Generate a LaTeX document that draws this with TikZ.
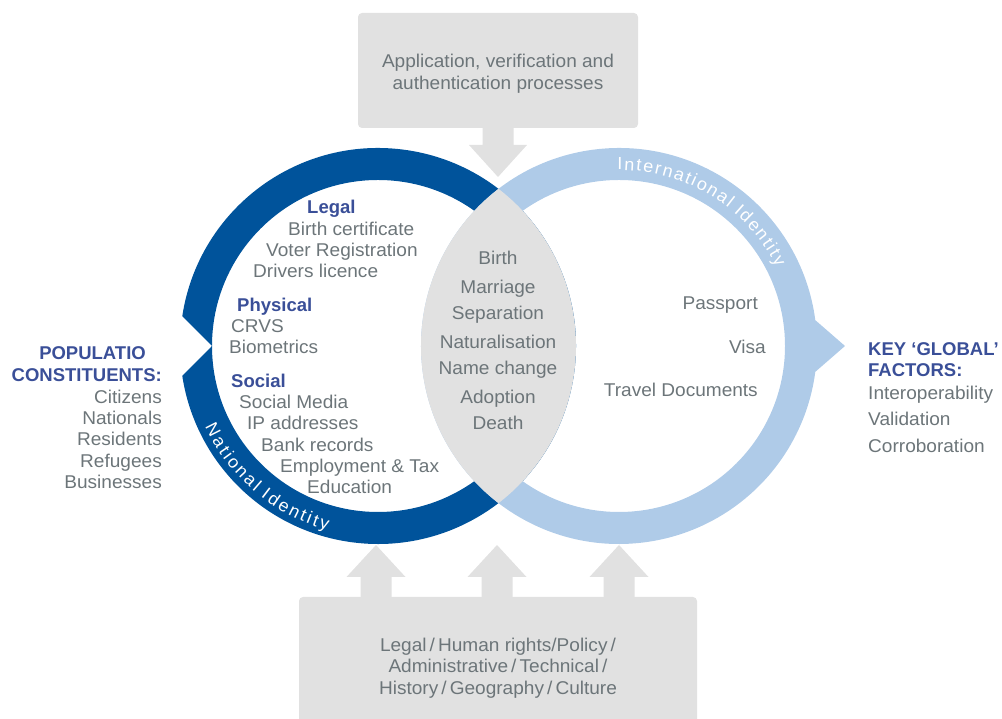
\documentclass[tikz,border=0pt]{standalone}
\usepackage{fontspec}
\setmainfont{Liberation Sans}
\newfontfamily\itemfont{Liberation Sans}[FakeStretch=1.03]
\usetikzlibrary{
    positioning
}

\definecolor{natblue}{RGB}{0,83,155}
\definecolor{intblue}{RGB}{175,203,232}
\definecolor{lensgray}{RGB}{225,225,225}
\definecolor{boxgray}{RGB}{225,225,225}
\definecolor{txtgray}{RGB}{108,117,121}
\definecolor{headblue}{RGB}{58,79,152}

\begin{document}
\begin{tikzpicture}[x=1pt, y=1pt,
    every node/.style={inner sep=0pt},
    item/.style={
        text=txtgray,
        font=\itemfont\fontsize{18.5}{21}\selectfont,
        text height=13.3pt,
        text depth=0pt
    },
    head/.style={
        item,
        text=headblue,
        font=\fontsize{18.5}{21}\selectfont\bfseries
    },
    panel/.style={
        fill=boxgray,
        rounded corners=4pt
    },
    paneltext/.style={
        align=center,
        text=txtgray
    },
    blockarrow/.style={fill=boxgray},
    ringband/.style={even odd rule},
    ringletter/.style={
        anchor=base,
        text=white,
        font=\itemfont\fontsize{17.5}{17.5}\selectfont
    }
]
\useasboundingbox (0,0) rectangle (1002,719);

% ===== centres of the two rings =====
\coordinate (natc) at (378,373);
\coordinate (intc) at (619,373);

% ===== TOP: processes box and its arrow =====
\node[panel, minimum width=280pt, minimum height=115pt] (proc) at (498,648.5) {};
\node[paneltext, font=\itemfont\fontsize{18.5}{22}\selectfont] (proctext)
    at ([yshift=-3pt]proc.center) {Application, verification and\\authentication processes};
\coordinate (proctip) at (498,542);
\fill[blockarrow] (proctip) -- ++(29,32) -- ++(-13.5,0) -- ++(0,20)
    -- ++(-31,0) -- ++(0,-20) -- ++(-13.5,0) -- cycle;

% ===== BOTTOM: factors box and its three arrows =====
\node[panel, minimum width=398pt, minimum height=142pt] (context) at (498,51) {};
\node[paneltext, font=\itemfont\fontsize{18.5}{21.5}\selectfont] (contexttext)
    at (context.center)
    {Legal\,/\,Human rights/Policy\,/\\Administrative\,/\,Technical\,/\\History\,/\,Geography\,/\,Culture};
\coordinate (nattip) at (376,174);
\coordinate (lenstip) at (497,174);
\coordinate (inttip) at (619,174);
\foreach \tip in {nattip, lenstip, inttip}
    \fill[blockarrow] (\tip) -- ++(29.5,-32) -- ++(-14,0) -- ++(0,-23)
        -- ++(-31,0) -- ++(0,23) -- ++(-14,0) -- cycle;

% ===== RINGS =====
% national identity ring, notched on the left
\fill[natblue, ringband]
    ([shift={(171.3:198)}]natc) arc[start angle=171.3, end angle=-171.3, radius=198]
    -- ([shift={(180:166)}]natc) -- cycle
    (natc) circle[radius=166];
% international identity ring, pointing right
\fill[intblue, ringband]
    ([shift={(7.5:198)}]intc) arc[start angle=7.5, end angle=352.5, radius=198]
    -- ([shift={(0:226)}]intc) -- cycle
    (intc) circle[radius=166];
% overlap
\begin{scope}
    \clip (natc) circle[radius=198];
    \fill[lensgray] (intc) circle[radius=198];
\end{scope}

% ring titles, letter by letter (clockwise on top, anticlockwise at the bottom)
\gdef\arcpos{0}
\foreach \c [count=\k] in {I,n,t,e,r,n,a,t,i,o,n,a,l} {
    \itemfont\fontsize{17.5}{17.5}\selectfont
    \pgfmathsetmacro\w{width("\c")}
    \pgfmathsetmacro\a{90.5-(\arcpos+\w/2)/176*180/pi}
    \node[ringletter, rotate=\a-90] (intl\k) at ([shift={(\a:176)}]intc) {\c};
    \pgfmathsetmacro\p{\arcpos+\w+1.7}
    \xdef\arcpos{\p}
}
\pgfmathsetmacro\p{\arcpos+5}
\xdef\arcpos{\p}
\foreach \c [count=\k] in {I,d,e,n,t,i,t,y} {
    \itemfont\fontsize{17.5}{17.5}\selectfont
    \pgfmathsetmacro\w{width("\c")}
    \pgfmathsetmacro\a{90.5-(\arcpos+\w/2)/176*180/pi}
    \node[ringletter, rotate=\a-90] (intid\k) at ([shift={(\a:176)}]intc) {\c};
    \pgfmathsetmacro\p{\arcpos+\w+1.7}
    \xdef\arcpos{\p}
}
\gdef\arcpos{0}
\foreach \c [count=\k] in {N,a,t,i,o,n,a,l} {
    \itemfont\fontsize{17.5}{17.5}\selectfont
    \pgfmathsetmacro\w{width("\c")}
    \pgfmathsetmacro\a{205+(\arcpos+\w/2)/191*180/pi}
    \node[ringletter, rotate=\a+90] (natl\k) at ([shift={(\a:191)}]natc) {\c};
    \pgfmathsetmacro\p{\arcpos+\w+2.4}
    \xdef\arcpos{\p}
}
\pgfmathsetmacro\p{\arcpos+5}
\xdef\arcpos{\p}
\foreach \c [count=\k] in {I,d,e,n,t,i,t,y} {
    \itemfont\fontsize{17.5}{17.5}\selectfont
    \pgfmathsetmacro\w{width("\c")}
    \pgfmathsetmacro\a{205+(\arcpos+\w/2)/191*180/pi}
    \node[ringletter, rotate=\a+90] (natid\k) at ([shift={(\a:191)}]natc) {\c};
    \pgfmathsetmacro\p{\arcpos+\w+2.4}
    \xdef\arcpos{\p}
}

% ===== national identity contents =====
\node[head, anchor=west] (legal) at (307,512) {Legal};
\foreach \x/\y/\t [count=\i] in {288/490/Birth certificate, 266/469/Voter Registration,
        253/448/Drivers licence}
    \node[item, anchor=west] (legal\i) at (\x,\y) {\t};
\node[head, anchor=west] (physical) at (237,414) {Physical};
\foreach \x/\y/\t [count=\i] in {231/393/CRVS, 229/372/Biometrics}
    \node[item, anchor=west] (physical\i) at (\x,\y) {\t};
\node[head, anchor=west] (social) at (231,338) {Social};
\foreach \x/\y/\t [count=\i] in {239/317/Social Media, 247/296/IP addresses,
        261/274/Bank records, 280/253/Employment \& Tax, 307/232/Education}
    \node[item, anchor=west] (social\i) at (\x,\y) {\t};

% ===== life events in the overlap =====
\foreach \y/\t [count=\i] in {461/Birth, 432/Marriage, 406/Separation, 377/Naturalisation,
        351/Name change, 322/Adoption, 296/Death}
    \node[item] (event\i) at (498,\y) {\t};

% ===== international identity contents =====
\node[item, anchor=east] (passport) at (758,416) {Passport};
\node[item, anchor=east] (visa) at (766,372) {Visa};
\node[item, anchor=east] (travel) at (758,329) {Travel Documents};

% ===== left: population =====
\node[head, anchor=east] (popul) at (146,366) {POPULATIO};
\node[head, anchor=east] (constit) at (162,344) {CONSTITUENTS:};
\foreach \y/\t [count=\i] in {322/Citizens, 301/Nationals, 280/Residents, 258/Refugees, 237/Businesses}
    \node[item, anchor=east] (constit\i) at (162,\y) {\t};

% ===== right: global factors =====
\node[head, anchor=west] (keyglobal) at (868,370) {KEY ‘GLOBAL’};
\node[head, anchor=west] (factors) at (868,349) {FACTORS:};
\foreach \y/\t [count=\i] in {326/Interoperability, 300/Validation, 273/Corroboration}
    \node[item, anchor=west] (factors\i) at (868,\y) {\t};

\end{tikzpicture}
\end{document}
